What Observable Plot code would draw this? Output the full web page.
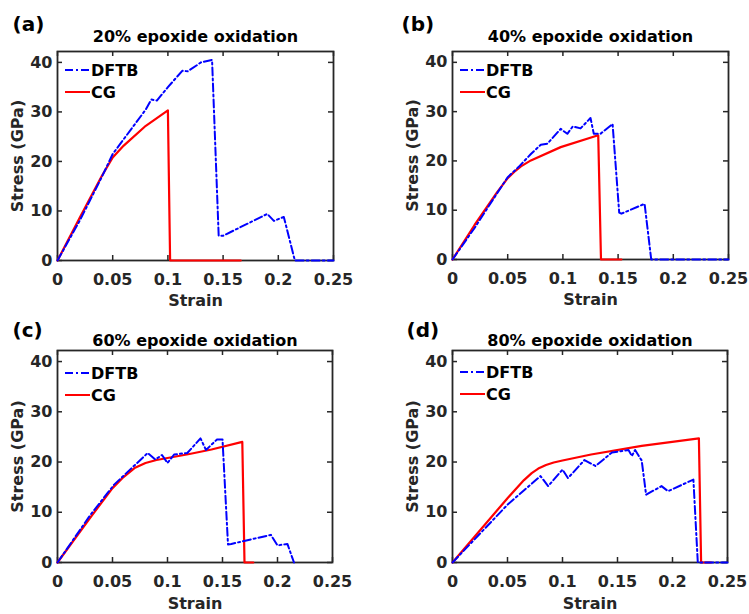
<!DOCTYPE html>
<html>
<head>
<meta charset="utf-8">
<script src="https://cdn.jsdelivr.net/npm/d3@7"></script>
<script src="https://cdn.jsdelivr.net/npm/@observablehq/plot@0.6"></script>
<style>
  body { margin: 0; background: #fff; }
  #wrap { position: relative; width: 749px; height: 614px; overflow: hidden; }
  .cell { position: absolute; }
</style>
</head>
<body>
<div id="wrap"></div>
<script>
// ---- data ----
const strainTicks = [0, 0.05, 0.1, 0.15, 0.2, 0.25];
const stressTicks = [0, 10, 20, 30, 40];
const panelLetters = ["(a)", "(b)", "(c)", "(d)"];
const panelTitles = ["20% epoxide oxidation", "40% epoxide oxidation", "60% epoxide oxidation", "80% epoxide oxidation"];
const seriesNames = ["DFTB", "CG"];

// [strain, stress (GPa)]
const dftbA = [[0,0],[0.02,8],[0.04,16.8],[0.05,21.5],[0.06,24.5],[0.07,27.5],[0.08,30.5],[0.085,32.5],[0.09,32.3],[0.1,35],[0.113,38.3],[0.118,38.2],[0.13,40],[0.14,40.5],[0.146,5],[0.15,5],[0.19,9.4],[0.196,8],[0.205,8.8],[0.215,0],[0.25,0]];
const cgA   = [[0,0],[0.02,8.6],[0.04,17],[0.05,20.8],[0.06,23.2],[0.08,27.2],[0.1,30.3],[0.102,0],[0.166,0]];

const dftbB = [[0,0],[0.02,6.4],[0.04,13.3],[0.05,16.7],[0.06,18.8],[0.071,21.4],[0.08,23.3],[0.086,23.5],[0.098,26.5],[0.104,25.5],[0.109,27],[0.116,26.6],[0.125,28.7],[0.128,25.5],[0.134,25.5],[0.145,27.5],[0.151,9.5],[0.153,9.3],[0.174,11.3],[0.18,0],[0.25,0]];
const cgB   = [[0,0],[0.02,7],[0.04,13.5],[0.05,16.5],[0.057,18],[0.062,18.9],[0.071,20.1],[0.098,22.8],[0.132,25.2],[0.1345,0],[0.153,0]];

const dftbC = [[0,0],[0.03,9.5],[0.0515,15.5],[0.082,21.8],[0.089,20.5],[0.095,21.4],[0.1,19.8],[0.106,21.5],[0.118,21.8],[0.13,24.7],[0.135,22.4],[0.145,24.5],[0.15,24.5],[0.155,3.6],[0.158,3.7],[0.194,5.5],[0.2,3.4],[0.209,3.7],[0.215,0]];
const cgC   = [[0,0],[0.03,9],[0.05,14.8],[0.06,17],[0.07,18.8],[0.08,19.8],[0.09,20.4],[0.1,20.8],[0.12,21.6],[0.14,22.5],[0.168,24],[0.17,0],[0.178,0]];

const dftbD = [[0,0],[0.05,11.5],[0.08,17.2],[0.087,15.2],[0.1,18.5],[0.105,16.8],[0.12,20.4],[0.13,19.2],[0.145,21.9],[0.16,22.4],[0.163,21.2],[0.166,22.4],[0.172,20.3],[0.176,13.5],[0.19,15.2],[0.196,14.2],[0.219,16.5],[0.223,0],[0.25,0]];
const cgD   = [[0,0],[0.05,12.8],[0.065,16.4],[0.072,17.8],[0.078,18.7],[0.085,19.4],[0.092,19.9],[0.1,20.3],[0.126,21.5],[0.172,23.2],[0.224,24.7],[0.226,0],[0.235,0]];

const panelData = [[dftbA, cgA], [dftbB, cgB], [dftbC, cgC], [dftbD, cgD]];

// ---- layout ----
const cells = [
  {left: 0,   top: 0,   width: 374, height: 307, mt: 51, mb: 47, ml: 57, mr: 41, titleDy: -15, letterDx: -45, letterDy: -27, labelDy: 40, legDy: [19, 41]},
  {left: 374, top: 0,   width: 375, height: 307, mt: 51, mb: 48, ml: 78, mr: 21, titleDy: -15, letterDx: -51, letterDy: -27, labelDy: 40, legDy: [19, 41]},
  {left: 0,   top: 307, width: 374, height: 307, mt: 43, mb: 52, ml: 57, mr: 42, titleDy: -10, letterDx: -45, letterDy: -20, labelDy: 41, legDy: [23, 45]},
  {left: 374, top: 307, width: 375, height: 307, mt: 43, mb: 52, ml: 78, mr: 22, titleDy: -10, letterDx: -46, letterDy: -20, labelDy: 41, legDy: [22, 44]}
];

const BLUE = "#0000ff", RED = "#ff0000", AX = "#262626";
const FONT = "'DejaVu Sans', sans-serif";
const FS = 16;
const dash = "8,3,2,3";

function legend(c) {
  return () => {
    const g = d3.create("svg:g").attr("font-family", FONT).attr("font-weight", "bold").attr("font-size", FS).attr("text-anchor", "start");
    const x0 = c.ml + 8, x1 = c.ml + 33;
    const ys = c.legDy.map(d => c.mt + d);
    const styles = [{stroke: BLUE, dash}, {stroke: RED, dash: null}];
    seriesNames.forEach((name, i) => {
      const ln = g.append("line").attr("x1", x0).attr("x2", x1).attr("y1", ys[i]).attr("y2", ys[i])
        .attr("stroke", styles[i].stroke).attr("stroke-width", 2);
      if (styles[i].dash) ln.attr("stroke-dasharray", styles[i].dash);
      g.append("text").attr("x", x1 + 1).attr("y", ys[i]).attr("dy", "0.36em").attr("fill", "#000").text(name);
    });
    return g.node();
  };
}

const wrap = document.getElementById("wrap");
cells.forEach((c, i) => {
  const innerW = c.width - c.ml - c.mr;
  const innerH = c.height - c.mt - c.mb;
  const [dftb, cg] = panelData[i];
  const txt = {fontSize: FS, fontWeight: "bold", lineAnchor: "middle"};
  const chart = Plot.plot({
    width: c.width,
    height: c.height,
    marginTop: c.mt, marginBottom: c.mb, marginLeft: c.ml, marginRight: c.mr,
    style: {fontFamily: FONT, fontWeight: "bold", fontSize: FS + "px", color: AX, background: "transparent", overflow: "visible"},
    x: {domain: [0, 0.25]},
    y: {domain: [0, 42.2]},
    marks: [
      Plot.frame({stroke: AX, strokeWidth: 1.8}),
      Plot.tickX(strainTicks, {x: d => d, insetTop: innerH - 5, stroke: AX, strokeWidth: 1.5}),
      Plot.tickX(strainTicks, {x: d => d, insetBottom: innerH - 5, stroke: AX, strokeWidth: 1.5}),
      Plot.tickY(stressTicks, {y: d => d, insetRight: innerW - 5, stroke: AX, strokeWidth: 1.5}),
      Plot.tickY(stressTicks, {y: d => d, insetLeft: innerW - 5, stroke: AX, strokeWidth: 1.5}),
      Plot.axisX(strainTicks, {tickSize: 0, tickPadding: 13, label: null, tickFormat: d => String(+d.toFixed(2)), fontSize: FS, fontWeight: "bold"}),
      Plot.axisY(stressTicks, {tickSize: 0, tickPadding: 5, label: null, fontSize: FS, fontWeight: "bold"}),
      Plot.line(cg, {x: d => d[0], y: d => d[1], stroke: RED, strokeWidth: 2.2}),
      Plot.line(dftb, {x: d => d[0], y: d => d[1], stroke: BLUE, strokeWidth: 2, strokeDasharray: dash}),
      Plot.text([panelTitles[i]], {...txt, frameAnchor: "top", dy: c.titleDy, text: d => d, fill: "#000"}),
      Plot.text([panelLetters[i]], {...txt, frameAnchor: "top-left", dx: c.letterDx, dy: c.letterDy, textAnchor: "start", text: d => d, fontSize: 20, fill: "#000"}),
      Plot.text(["Strain"], {...txt, frameAnchor: "bottom", dy: c.labelDy, text: d => d, fill: AX}),
      Plot.text(["Stress (GPa)"], {...txt, frameAnchor: "left", dx: -40, rotate: -90, textAnchor: "middle", text: d => d, fill: AX}),
      legend(c)
    ]
  });
  const div = document.createElement("div");
  div.className = "cell";
  div.style.left = c.left + "px";
  div.style.top = c.top + "px";
  div.appendChild(chart);
  wrap.appendChild(div);
});
</script>
</body>
</html>
